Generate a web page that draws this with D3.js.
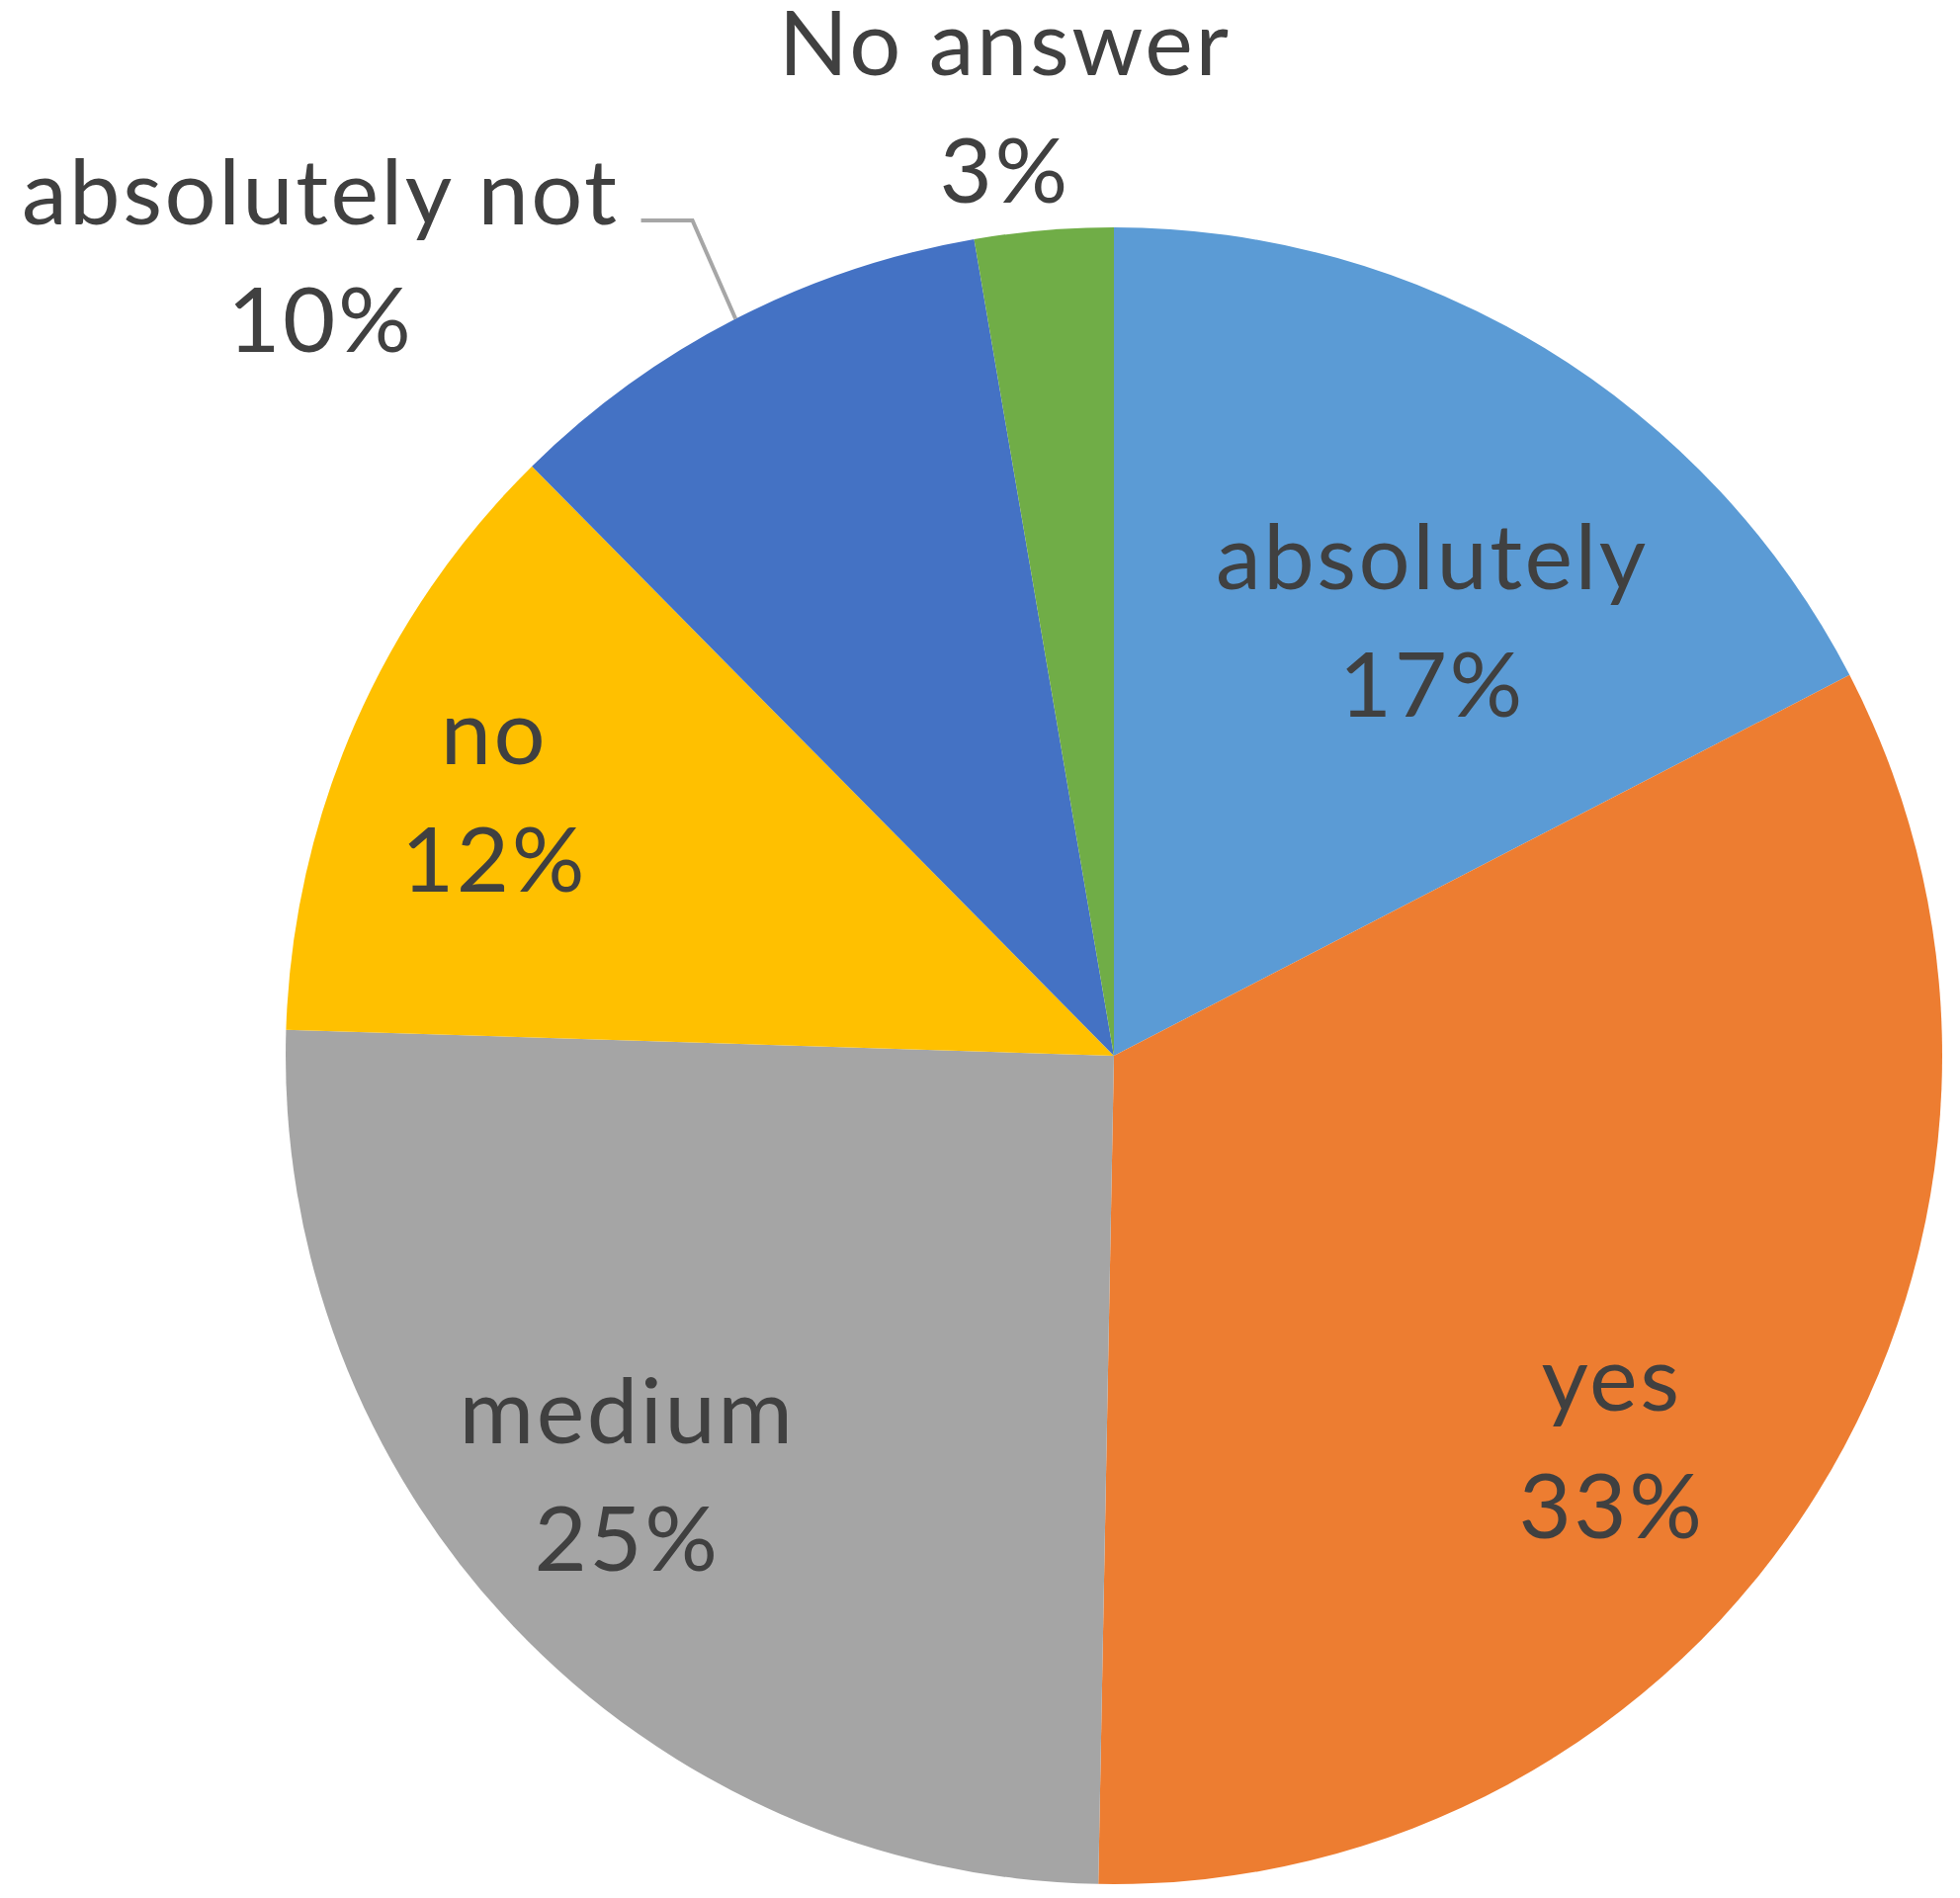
<!DOCTYPE html>
<html>
<head>
<meta charset="utf-8">
<script src="https://cdn.jsdelivr.net/npm/d3@7"></script>
<style>
  body { margin: 0; background: #fff; }
  text { font-family: Lato, "Open Sans", sans-serif; fill: #404040; }
</style>
</head>
<body>
<div id="chart"></div>
<script>
  // survey answers, share in percent
  const categories = ["absolutely", "yes", "medium", "no", "absolutely not", "No answer"]
  const shares = [17.4, 32.9, 25.2, 12.1, 9.7, 2.7]
  const colors = ["#5b9bd5", "#ed7d31", "#a5a5a5", "#ffc000", "#4472c4", "#70ad47"]

  const width = 1983
  const height = 1920
  const cx = 1127, cy = 1068, r = 838

  // label placement: radius factor and angle nudge (degrees) per slice
  const labelK = [0.65, 0.761, 0.776, 0.811, 1.36, 1.153]
  const labelNudge = [4.9, 6.0, 2.8, -0.9, -17.6, -1.7]

  const data = categories.map((c, i) => ({ name: c, value: shares[i], color: colors[i] }))
  const total = d3.sum(shares)

  const svg = d3.select("#chart").append("svg")
    .attr("width", width)
    .attr("height", height)

  const g = svg.append("g").attr("transform", `translate(${cx},${cy})`)

  const pie = d3.pie().sort(null).value(d => d.value)
  const arc = d3.arc().innerRadius(0).outerRadius(r)
  const arcs = pie(data)

  g.selectAll("path")
    .data(arcs)
    .join("path")
      .attr("d", arc)
      .attr("fill", d => d.data.color)

  const polar = (ang, rad) => [rad * Math.sin(ang), -rad * Math.cos(ang)]
  const fmt = d3.format(".0%")

  const labels = g.selectAll("text.lbl")
    .data(arcs)
    .join("text")
      .attr("class", "lbl")
      .attr("text-anchor", "middle")
      .attr("font-size", 92)
      .attr("letter-spacing", 2.5)
      .each(function (d, i) {
        const mid = (d.startAngle + d.endAngle) / 2 + labelNudge[i] * Math.PI / 180
        const [x, y] = polar(mid, r * labelK[i])
        d.lx = x; d.ly = y
        const t = d3.select(this)
        t.append("tspan").attr("x", x).attr("y", y - 32.5).text(d.data.name)
        t.append("tspan").attr("x", x).attr("y", y + 96.5).text(fmt(d.data.value / total))
      })

  // leader line for the outside "absolutely not" label
  const outer = arcs[4]
  const node = labels.filter((d, i) => i === 4).node()
  const bb = node.getBBox()
  const x0 = bb.x + bb.width + 22
  const y0 = outer.ly - 36
  const end = polar((outer.startAngle + outer.endAngle) / 2, r)
  g.append("path")
    .attr("d", d3.line()([[x0, y0], [x0 + 52, y0], end]))
    .attr("fill", "none")
    .attr("stroke", "#a6a6a6")
    .attr("stroke-width", 4)
</script>
</body>
</html>
